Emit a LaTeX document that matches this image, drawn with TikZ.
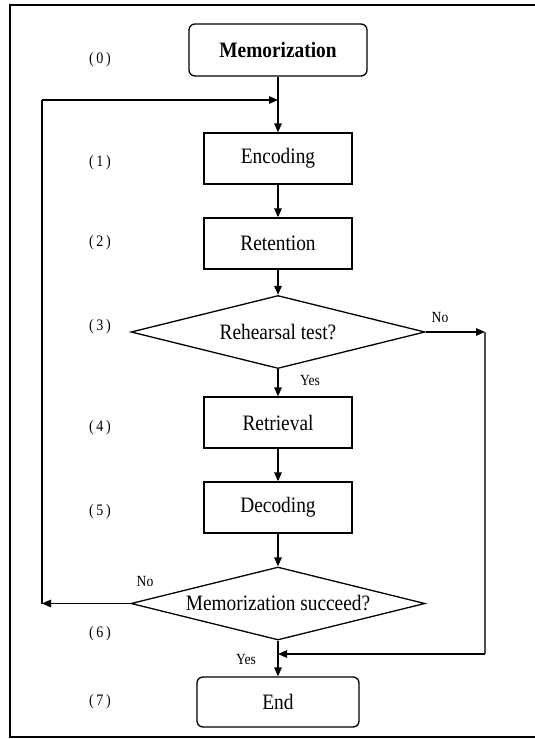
\documentclass[tikz,border=0pt]{standalone}
\usepackage{fontspec}
\setmainfont{Liberation Serif}
\newfontfamily\condfont[FakeStretch=0.88]{Liberation Serif}
\usetikzlibrary{shapes.geometric,arrows.meta}
\begin{document}
\begin{tikzpicture}[x=1pt,y=-1pt,
  boxtext/.style={font=\condfont\fontsize{22}{24}\selectfont},
  procbox/.style={draw, line width=1.3pt, minimum width=148pt, minimum height=51pt, inner sep=0pt, boxtext},
  termbox/.style={procbox, rounded corners=6pt},
  decbox/.style={draw, diamond, line width=1.3pt, minimum width=294pt, minimum height=73pt, inner sep=0pt},
  steplabel/.style={font=\condfont\fontsize{16}{18}\selectfont},
  yn/.style={font=\condfont\fontsize{15.5}{17}\selectfont},
  arr/.style={line width=1.4pt, -{Triangle[length=9pt,width=7.5pt]}},
  ln/.style={line width=1.4pt}]
\useasboundingbox (0,0) rectangle (535,739);
% frame
\draw[line width=2pt] (535,5) -- (10,5) -- (10,737) -- (535,737);
% nodes
\node[termbox, minimum width=178pt, minimum height=52pt, font=\condfont\fontsize{22}{24}\selectfont\bfseries] (mem) at (278,50) {Memorization};
\node[procbox] (enc) at (278,158.5) {Encoding};
\node[procbox] (ret) at (278,243.5) {Retention};
\node[decbox, label={[boxtext]center:Rehearsal test?}] (d1) at (278,332) {};
\node[procbox] (rtv) at (278,422.5) {Retrieval};
\node[procbox] (dec) at (278,507.5) {Decoding};
\node[decbox, label={[boxtext]center:Memorization succeed?}] (d2) at (278,603.5) {};
\node[termbox, minimum width=162pt, minimum height=50pt] (end) at (278,702) {End};
% step labels
\node[steplabel] (s0) at (100,60) {(\,0\,)};
\node[steplabel] (s1) at (100,163) {(\,1\,)};
\node[steplabel] (s2) at (100,243) {(\,2\,)};
\node[steplabel] (s3) at (100,327) {(\,3\,)};
\node[steplabel] (s4) at (100,428) {(\,4\,)};
\node[steplabel] (s5) at (100,512) {(\,5\,)};
\node[steplabel] (s6) at (100,634) {(\,6\,)};
\node[steplabel] (s7) at (100,702) {(\,7\,)};
% helper coordinates
\coordinate (j1) at (278,100);
\coordinate (l1) at (42,100);
\coordinate (l2) at (42,603.5);
\coordinate (r1) at (485,332);
\coordinate (r2) at (485,654);
\coordinate (j2) at (278,654);
% connectors
\draw[arr] (mem.south) -- (enc.north);
\draw[arr] (enc.south) -- (ret.north);
\draw[arr] (ret.south) -- (d1.north);
\draw[arr] (d1.south) -- (rtv.north);
\node[yn] (yes1) at (310,380) {Yes};
\draw[arr] (rtv.south) -- (dec.north);
\draw[arr] (dec.south) -- (d2.north);
\draw[arr] (d1.east) -- (r1);
\node[yn] (no1) at (440,317) {No};
\draw[ln, black!70] (r1) -- (r2);
\draw[arr] (r2) -- (j2);
\draw[arr] (d2.west) -- (l2);
\node[yn] (no2) at (145,581) {No};
\draw[ln] (l2) -- (l1);
\draw[arr] (l1) -- (j1);
\draw[arr] (d2.south) -- (end.north);
\node[yn] (yes2) at (246,659) {Yes};
\end{tikzpicture}
\end{document}
